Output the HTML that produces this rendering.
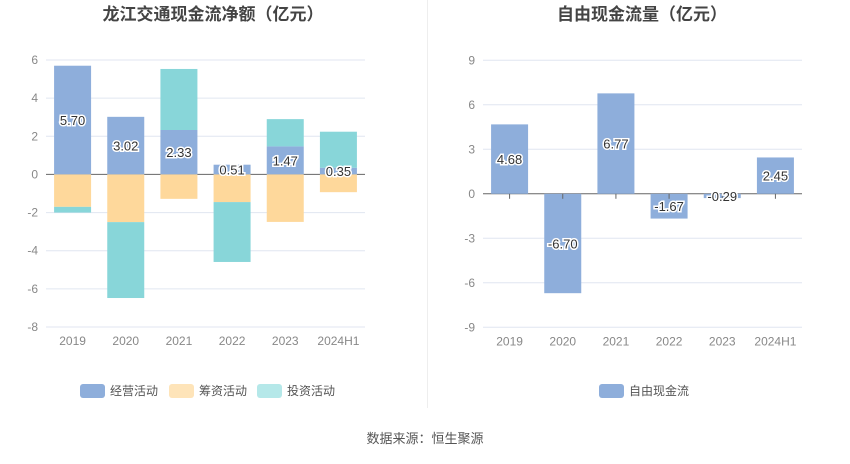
<!DOCTYPE html>
<html><head><meta charset="utf-8"><style>
body{margin:0;background:#fff;width:850px;height:459px;overflow:hidden;font-family:"Liberation Sans","Noto Sans CJK SC",sans-serif}
svg text{font-family:"Liberation Sans","Noto Sans CJK SC",sans-serif}
</style></head><body>
<svg id="s" width="850" height="459">
<text x="213" y="20" text-anchor="middle" font-size="17" font-weight="bold" fill="#444">龙江交通现金流净额（亿元）</text>
<text x="642" y="20" text-anchor="middle" font-size="17" font-weight="bold" fill="#444">自由现金流量（亿元）</text>
<line x1="427.5" y1="0" x2="427.5" y2="408" stroke="#eee"/>
<text x="425" y="443" text-anchor="middle" font-size="13" fill="#555">数据来源：恒生聚源</text>
<g id="L"></g><g id="R"></g>
</svg>
<script>
const categories=["2019","2020","2021","2022","2023","2024H1"];
const operating=[5.70,3.02,2.33,0.51,1.47,0.35];
const financing=[-1.70,-2.50,-1.28,-1.45,-2.49,-0.93];
const investing=[-0.30,-3.98,3.20,-3.14,1.43,1.89];
const leftTicks=[6,4,2,0,-2,-4,-6,-8];
const freeCash=[4.68,-6.70,6.77,-1.67,-0.29,2.45];
const rightTicks=[9,6,3,0,-3,-6,-9];
const NS="http://www.w3.org/2000/svg";
function mk(p,t,a){const e=document.createElementNS(NS,t);for(const k in a)e.setAttribute(k,a[k]);p.appendChild(e);return e;}
function chart(g,x0,x1,yTop,yBot,vmax,vmin,ticks,series,colors,labelsIdx,showTicks){
  const y=v=>yTop+(vmax-v)/(vmax-vmin)*(yBot-yTop);
  const bw=(x1-x0)/categories.length, cx=i=>x0+bw*(i+0.5);
  ticks.forEach(t=>{
    const l=mk(g,'line',{x1:x0,x2:x1,y1:y(t),y2:y(t),stroke:t===0?'#666':'#e0e6f1'});
    
    const tx=mk(g,'text',{x:x0-8,y:y(t)+4,'text-anchor':'end','font-size':12,fill:'#888'});tx.textContent=t;
    
  });
  categories.forEach((c,i)=>{
    let pos=0,neg=0;
    series.forEach((s,k)=>{
      const v=s[i];let a,b;
      if(v>=0){a=pos;b=pos+v;pos=b;}else{a=neg;b=neg+v;neg=b;}
      const r=mk(g,'rect',{x:cx(i)-18.5,width:37,y:Math.min(y(a),y(b)),height:Math.abs(y(a)-y(b)),fill:colors[k]});
      
    });
    if(showTicks){const tk=mk(g,'line',{x1:cx(i),x2:cx(i),y1:y(0),y2:y(0)+5,stroke:'#666'});}
    const lx=mk(g,'text',{x:cx(i),y:yBot+18,'text-anchor':'middle','font-size':12,fill:'#888'});lx.textContent=c;
    
  });
  categories.forEach((c,i)=>{
    const v=series[labelsIdx][i];
    const vy=v>=0?y(v/2):y(v/2);
    const t=mk(g,'text',{x:cx(i),y:vy+5,'text-anchor':'middle','font-size':13,fill:'#333',stroke:'#fff','stroke-width':3,'paint-order':'stroke'});
    t.textContent=v.toFixed(2);
    
  });
}
const L=document.getElementById('L'),R=document.getElementById('R');
chart(L,46,365,60,327,6,-8,leftTicks,[operating,financing,investing],['#8eaedb','#fed89b','#88d6d9'],0,false);
chart(R,483,802,60.3,327.3,9,-9,rightTicks,[freeCash],['#8eaedb'],0,true);
function leg(g,x,col,txt){const r=mk(g,'rect',{x:x,y:384,width:25,height:14,rx:3,fill:col});
 const t=mk(g,'text',{x:x+30,y:395,'font-size':12,fill:'#555'});t.textContent=txt;}
leg(L,80,'#8eaedb','经营活动');leg(L,169,'#fee4b9','筹资活动');leg(L,257,'#b5e8e9','投资活动');
leg(R,599,'#8eaedb','自由现金流');
</script>
</body></html>
